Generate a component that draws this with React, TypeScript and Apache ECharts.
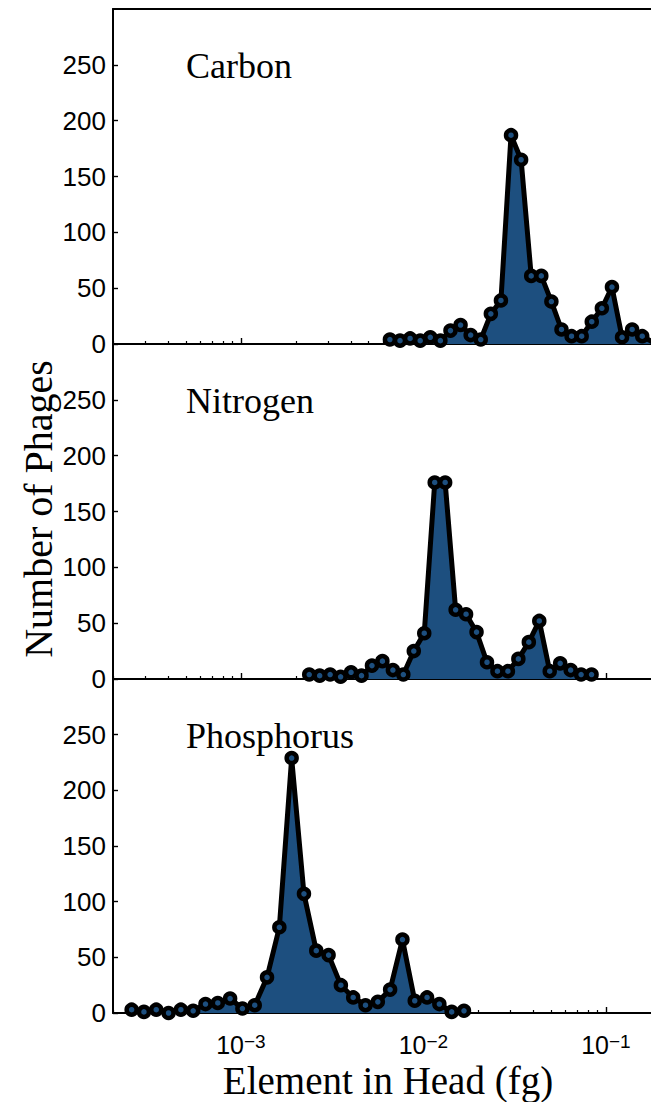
import { useEffect, useRef } from "react";
import * as echarts from "echarts";

// x values are log10 of element mass in head (fg)
const carbonLogFg = [
  -2.1836, -2.1283, -2.073, -2.0177, -1.9624, -1.9071, -1.8518, -1.7965, -1.7412,
  -1.6859, -1.6306, -1.5753, -1.52, -1.4647, -1.4094, -1.3541, -1.2988, -1.2435,
  -1.1882, -1.1329, -1.0776, -1.0223, -0.967, -0.9117, -0.8564, -0.8011, -0.7458,
];
const carbonCounts = [
  4, 3, 5, 3, 6, 3, 12, 17, 8, 4, 27, 39, 187, 165, 61, 61, 38, 13, 7, 7, 20, 32, 51, 6, 13, 7, 2,
];

const nitrogenLogFg = [
  -2.6258, -2.5685, -2.5112, -2.4539, -2.3966, -2.3393, -2.282, -2.2247, -2.1674,
  -2.1101, -2.0528, -1.9955, -1.9382, -1.8809, -1.8236, -1.7663, -1.709, -1.6517,
  -1.5944, -1.5371, -1.4798, -1.4225, -1.3652, -1.3079, -1.2506, -1.1933, -1.136, -1.0787,
];
const nitrogenCounts = [
  4, 3, 4, 2, 6, 3, 12, 16, 8, 4, 25, 41, 176, 176, 62, 58, 42, 15, 7, 7, 18, 33, 52, 7, 14, 8, 4, 4,
];

const phosphorusLogFg = [
  -3.5989, -3.5315, -3.464, -3.3966, -3.3291, -3.2617, -3.1942, -3.1268, -3.0593,
  -2.9919, -2.9244, -2.857, -2.7895, -2.7221, -2.6546, -2.5872, -2.5197, -2.4523,
  -2.3848, -2.3174, -2.2499, -2.1825, -2.115, -2.0476, -1.9801, -1.9127, -1.8452, -1.7778,
];
const phosphorusCounts = [
  3, 1, 3, 0, 3, 2, 8, 9, 13, 4, 7, 32, 77, 229, 107, 56, 52, 25, 14, 7, 10, 21, 66, 11, 14, 8, 1, 2,
];

const panelNames = ["Carbon", "Nitrogen", "Phosphorus"];
const decadeExponents = [-3, -2, -1];
const minorMultipliers = [2, 3, 4, 5, 6, 7, 8, 9];
const minorDecades = [-4, -3, -2, -1];

const X_MIN = -3.701;
const X_MAX = -0.753;
const BLUE = "#1d4f7f";

export default function App() {
  const ref = useRef<HTMLDivElement>(null);

  useEffect(() => {
    document.body.style.margin = "0";
    document.body.style.overflow = "hidden";
    const chart = echarts.init(ref.current!, null, { renderer: "svg" });

    const minorTickValues: number[] = [];
    minorDecades.forEach((d) =>
      minorMultipliers.forEach((m) => {
        const v = d + Math.log10(m);
        if (v > X_MIN && v < X_MAX) minorTickValues.push(v);
      })
    );

    const panels = [
      { x: carbonLogFg, y: carbonCounts },
      { x: nitrogenLogFg, y: nitrogenCounts },
      { x: phosphorusLogFg, y: phosphorusCounts },
    ];

    const gridTops = [9, 344, 679];
    const gridHeights = [335, 335, 334];

    const grids = gridTops.map((t, i) => ({
      left: 113,
      right: 0,
      top: t,
      height: gridHeights[i],
      outerBoundsMode: "none",
      containLabel: false,
    }));

    const axisLineStyle = { color: "#000", width: 2 };
    const xAxes: any[] = [];
    gridTops.forEach((_, i) => {
      xAxes.push({
        type: "value",
        gridIndex: i,
        min: X_MIN,
        max: X_MAX,
        position: "bottom",
        axisLine: { show: true, onZero: false, lineStyle: axisLineStyle },
        axisTick: {
          show: true,
          inside: true,
          length: 3,
          customValues: minorTickValues,
          lineStyle: { color: "#000", width: 1.2 },
        },
        axisLabel: { show: false },
        splitLine: { show: false },
      });
      xAxes.push({
        type: "value",
        gridIndex: i,
        min: X_MIN,
        max: X_MAX,
        position: "bottom",
        axisLine: { show: false, onZero: false },
        axisTick: {
          show: true,
          inside: true,
          length: 6,
          customValues: decadeExponents,
          lineStyle: { color: "#000", width: 1.4 },
        },
        axisLabel: {
          show: i === 2,
          customValues: decadeExponents,
          margin: 19,
          formatter: (v: number) => `{b|10}{s|\u2212${Math.abs(Math.round(v))}}`,
          rich: {
            b: {
              fontSize: 25,
              fontFamily: "Liberation Sans",
              color: "#000",
              lineHeight: 25,
              padding: [10, 0, 0, 0],
              verticalAlign: "bottom",
            },
            s: {
              fontSize: 19,
              fontFamily: "Liberation Sans",
              color: "#000",
              lineHeight: 19,
              verticalAlign: "top",
            },
          },
        },
        splitLine: { show: false },
      });
    });
    // top spine of the first panel
    xAxes.push({
      type: "value",
      gridIndex: 0,
      min: X_MIN,
      max: X_MAX,
      position: "top",
      axisLine: { show: true, onZero: false, lineStyle: axisLineStyle },
      axisTick: { show: false },
      axisLabel: { show: false },
      splitLine: { show: false },
    });

    const yAxes = gridTops.map((_, i) => ({
      type: "value",
      gridIndex: i,
      min: 0,
      max: 300,
      interval: 50,
      axisLine: { show: true, onZero: false, lineStyle: axisLineStyle },
      axisTick: { show: true, inside: true, length: 5, lineStyle: { color: "#000", width: 1.4 } },
      axisLabel: {
        showMaxLabel: false,
        fontSize: 26,
        fontFamily: "Liberation Sans",
        color: "#000",
        margin: 7,
      },
      splitLine: { show: false },
    }));

    const series = panels.map((p, i) => ({
      type: "line",
      xAxisIndex: i * 2,
      yAxisIndex: i,
      data: p.x.map((x, j) => [x, p.y[j]]),
      symbol: "circle",
      symbolSize: 10,
      showSymbol: true,
      clip: true,
      silent: true,
      itemStyle: { color: BLUE, borderColor: "#000", borderWidth: 4.5 },
      lineStyle: { color: "#000", width: 5, join: "round" },
      areaStyle: { color: BLUE, opacity: 1, origin: "start" },
      emphasis: { disabled: true },
    }));

    const titleGraphics = panelNames.map((name, i) => ({
      type: "text",
      x: 186,
      y: gridTops[i] + 57,
      style: {
        text: name,
        fontSize: 36,
        fontFamily: "Liberation Serif",
        fill: "#000",
        align: "left",
        verticalAlign: "middle",
      },
    }));

    chart.setOption({
      animation: false,
      backgroundColor: "#fff",
      grid: grids,
      xAxis: xAxes,
      yAxis: yAxes,
      series,
      graphic: [
        ...titleGraphics,
        {
          type: "text",
          x: 38,
          y: 509,
          rotation: Math.PI / 2,
          style: {
            text: "Number of Phages",
            fontSize: 40,
            fontFamily: "Liberation Serif",
            fill: "#000",
            align: "center",
            verticalAlign: "middle",
          },
        },
        {
          type: "text",
          x: 388,
          y: 1080,
          style: {
            text: "Element in Head (fg)",
            fontSize: 39,
            fontFamily: "Liberation Serif",
            fill: "#000",
            align: "center",
            verticalAlign: "middle",
          },
        },
      ],
    });

    return () => chart.dispose();
  }, []);

  return <div ref={ref} style={{ width: 651, height: 1102 }} />;
}
